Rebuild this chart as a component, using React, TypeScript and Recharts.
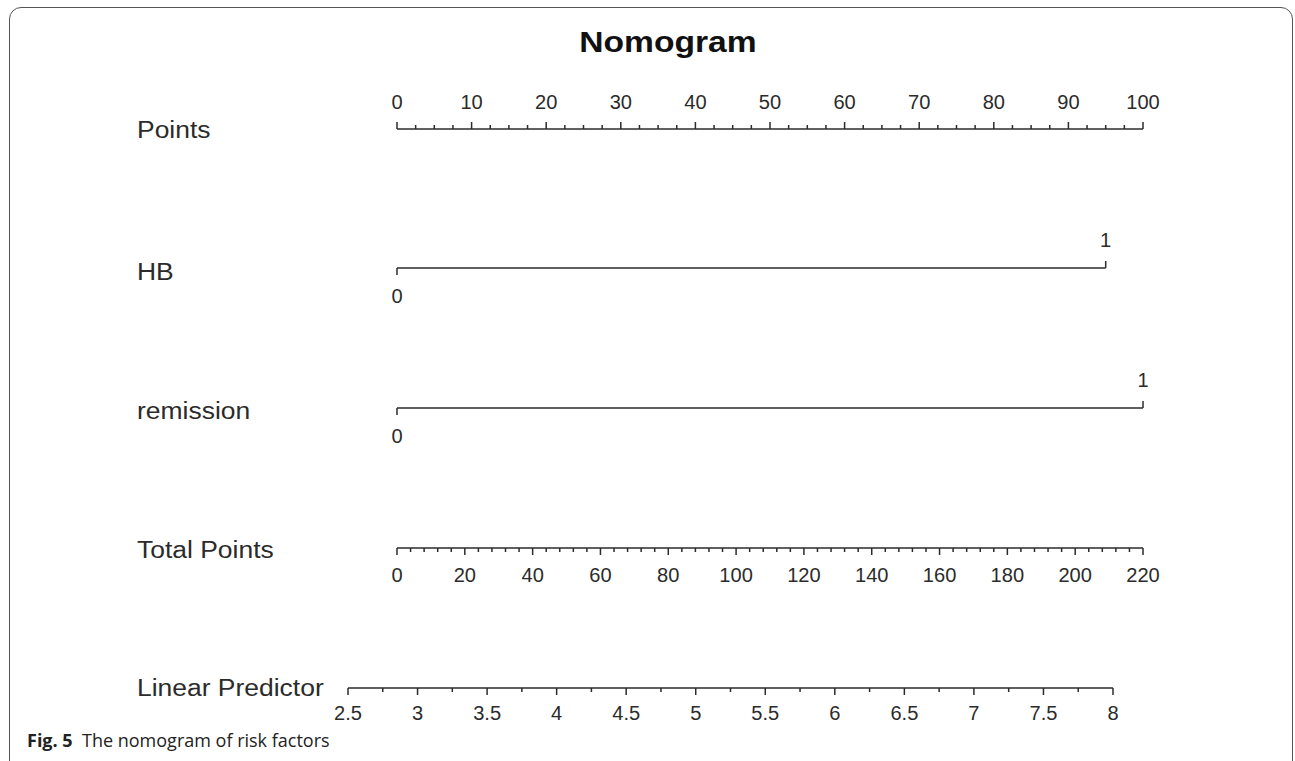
import { LineChart, Line, XAxis, YAxis } from 'recharts';

// values
const pointsLabels = [0, 10, 20, 30, 40, 50, 60, 70, 80, 90, 100];
const totalLabels = [0, 20, 40, 60, 80, 100, 120, 140, 160, 180, 200, 220];
const lpLabels = [2.5, 3, 3.5, 4, 4.5, 5, 5.5, 6, 6.5, 7, 7.5, 8];
const pointsMinorStep = 2.5;
const totalMinorStep = 4;
const lpMinorStep = 0.25;

const hbLevels = ['0', '1'];
const hbPoints = [0, 95];
const remissionLevels = ['0', '1'];
const remissionPoints = [0, 100];

const INK = '#2b2b2b';
const FONT = '"Liberation Sans", Arial, sans-serif';
const W = 1295;
const PTS_LEFT = 397;
const PTS_RIGHT = 152;
const TICK_FONT = 19.5;

function withMinor(labels: number[], step: number) {
  const out: number[] = [];
  const lo = labels[0];
  const hi = labels[labels.length - 1];
  for (let v = lo; v <= hi + 1e-9; v += step) out.push(Math.round(v * 1000) / 1000);
  return out;
}

function makeTick(labels: number[], dir: 'up' | 'down', labelGap: number) {
  return (props: any) => {
    const { x, y, payload } = props;
    const v = payload.value;
    const major = labels.some((l) => Math.abs(l - v) < 1e-6);
    const len = major ? 7 : 4;
    const y2 = dir === 'up' ? y - len : y + len;
    const ty = dir === 'up' ? y - labelGap : y + labelGap;
    return (
      <g>
        <line x1={x} x2={x} y1={y} y2={y2} stroke={INK} strokeWidth={1.5} />
        {major && (
          <text
            transform={`translate(${x},${ty}) scale(1.03,1)`}
            textAnchor="middle"
            fontSize={TICK_FONT}
            fontFamily={FONT}
            fill={INK}
          >
            {String(v)}
          </text>
        )}
      </g>
    );
  };
}

function ScaleRow({
  lineY,
  left,
  right,
  labels,
  step,
  orientation,
  labelGap,
}: {
  lineY: number;
  left: number;
  right: number;
  labels: number[];
  step: number;
  orientation: 'top' | 'bottom';
  labelGap: number;
}) {
  const ticks = withMinor(labels, step);
  const data = ticks.map((v) => ({ v }));
  const top = orientation === 'top' ? lineY - 40 : lineY - 20;
  return (
    <div style={{ position: 'absolute', left: 0, top }}>
      <LineChart
        width={W}
        height={60}
        data={data}
        margin={{ top: 0, right, bottom: 0, left }}
      >
        <XAxis
          dataKey="v"
          type="number"
          orientation={orientation}
          domain={[labels[0], labels[labels.length - 1]]}
          ticks={ticks}
          interval={0}
          height={40}
          tickSize={0}
          tickMargin={0}
          tickLine={false}
          axisLine={{ stroke: INK, strokeWidth: 1.5 }}
          tick={makeTick(labels, orientation === 'top' ? 'up' : 'down', labelGap)}
        />
      </LineChart>
    </div>
  );
}

function LevelRow({ lineY, levels, points }: { lineY: number; levels: string[]; points: number[] }) {
  const data = levels.map((level, i) => ({ level, pts: points[i] }));
  const renderDot = (props: any) => {
    const { cx, cy, index, payload } = props;
    const first = index === 0;
    const y2 = first ? cy + 7 : cy - 7;
    const ty = first ? cy + 35 : cy - 21;
    return (
      <g key={`d${index}`}>
        <line x1={cx} x2={cx} y1={cy} y2={y2} stroke={INK} strokeWidth={1.5} />
        <text
          transform={`translate(${cx},${ty}) scale(1.03,1)`}
          textAnchor="middle"
          fontSize={TICK_FONT}
          fontFamily={FONT}
          fill={INK}
        >
          {payload.level}
        </text>
      </g>
    );
  };
  return (
    <div style={{ position: 'absolute', left: 0, top: lineY - 50 }}>
      <LineChart
        width={W}
        height={100}
        data={data}
        margin={{ top: 0, right: PTS_RIGHT, bottom: 0, left: PTS_LEFT }}
      >
        <XAxis dataKey="pts" type="number" domain={[0, 100]} hide />
        <YAxis type="number" domain={[-1, 1]} hide />
        <Line
          dataKey={() => 0}
          stroke={INK}
          strokeWidth={1.5}
          dot={renderDot}
          activeDot={false}
          isAnimationActive={false}
        />
      </LineChart>
    </div>
  );
}

const rowLabelStyle = (y: number): React.CSSProperties => ({
  position: 'absolute',
  left: 137,
  top: y,
  transform: 'translateY(-50%) scaleX(1.15)',
  transformOrigin: 'left center',
  fontFamily: FONT,
  fontSize: 23,
  color: INK,
  whiteSpace: 'nowrap',
  lineHeight: 1,
});

export default function App() {
  return (
    <div
      style={{
        position: 'absolute',
        left: 0,
        top: 0,
        width: W,
        height: 761,
        overflow: 'hidden',
        background: '#fff',
      }}
    >
      <div
        style={{
          position: 'absolute',
          left: 9,
          top: 7,
          width: 1282,
          height: 820,
          border: '1.5px solid #555',
          borderRadius: 12,
        }}
      />
      <div
        style={{
          position: 'absolute',
          left: 668,
          top: 42,
          transform: 'translate(-50%, -50%) scaleX(1.12)',
          fontFamily: FONT,
          fontWeight: 'bold',
          fontSize: 30,
          color: '#111',
          lineHeight: 1,
          whiteSpace: 'nowrap',
        }}
      >
        Nomogram
      </div>

      <div style={rowLabelStyle(130)}>Points</div>
      <div style={rowLabelStyle(272)}>HB</div>
      <div style={rowLabelStyle(411)}>remission</div>
      <div style={rowLabelStyle(550)}>Total Points</div>
      <div style={rowLabelStyle(688)}>Linear Predictor</div>

      <ScaleRow
        lineY={129}
        left={PTS_LEFT}
        right={PTS_RIGHT}
        labels={pointsLabels}
        step={pointsMinorStep}
        orientation="top"
        labelGap={20}
      />
      <LevelRow lineY={268} levels={hbLevels} points={hbPoints} />
      <LevelRow lineY={408} levels={remissionLevels} points={remissionPoints} />
      <ScaleRow
        lineY={548}
        left={PTS_LEFT}
        right={PTS_RIGHT}
        labels={totalLabels}
        step={totalMinorStep}
        orientation="bottom"
        labelGap={34}
      />
      <ScaleRow
        lineY={688}
        left={348}
        right={W - 1113}
        labels={lpLabels}
        step={lpMinorStep}
        orientation="bottom"
        labelGap={32}
      />

      <div
        style={{
          position: 'absolute',
          left: 27,
          top: 740,
          transform: 'translateY(-50%)',
          fontFamily: '"Open Sans", "Noto Sans", sans-serif',
          fontSize: 18,
          color: '#222',
          whiteSpace: 'nowrap',
          lineHeight: 1,
        }}
      >
        <b>Fig. 5</b>&nbsp; The nomogram of risk factors
      </div>
    </div>
  );
}
